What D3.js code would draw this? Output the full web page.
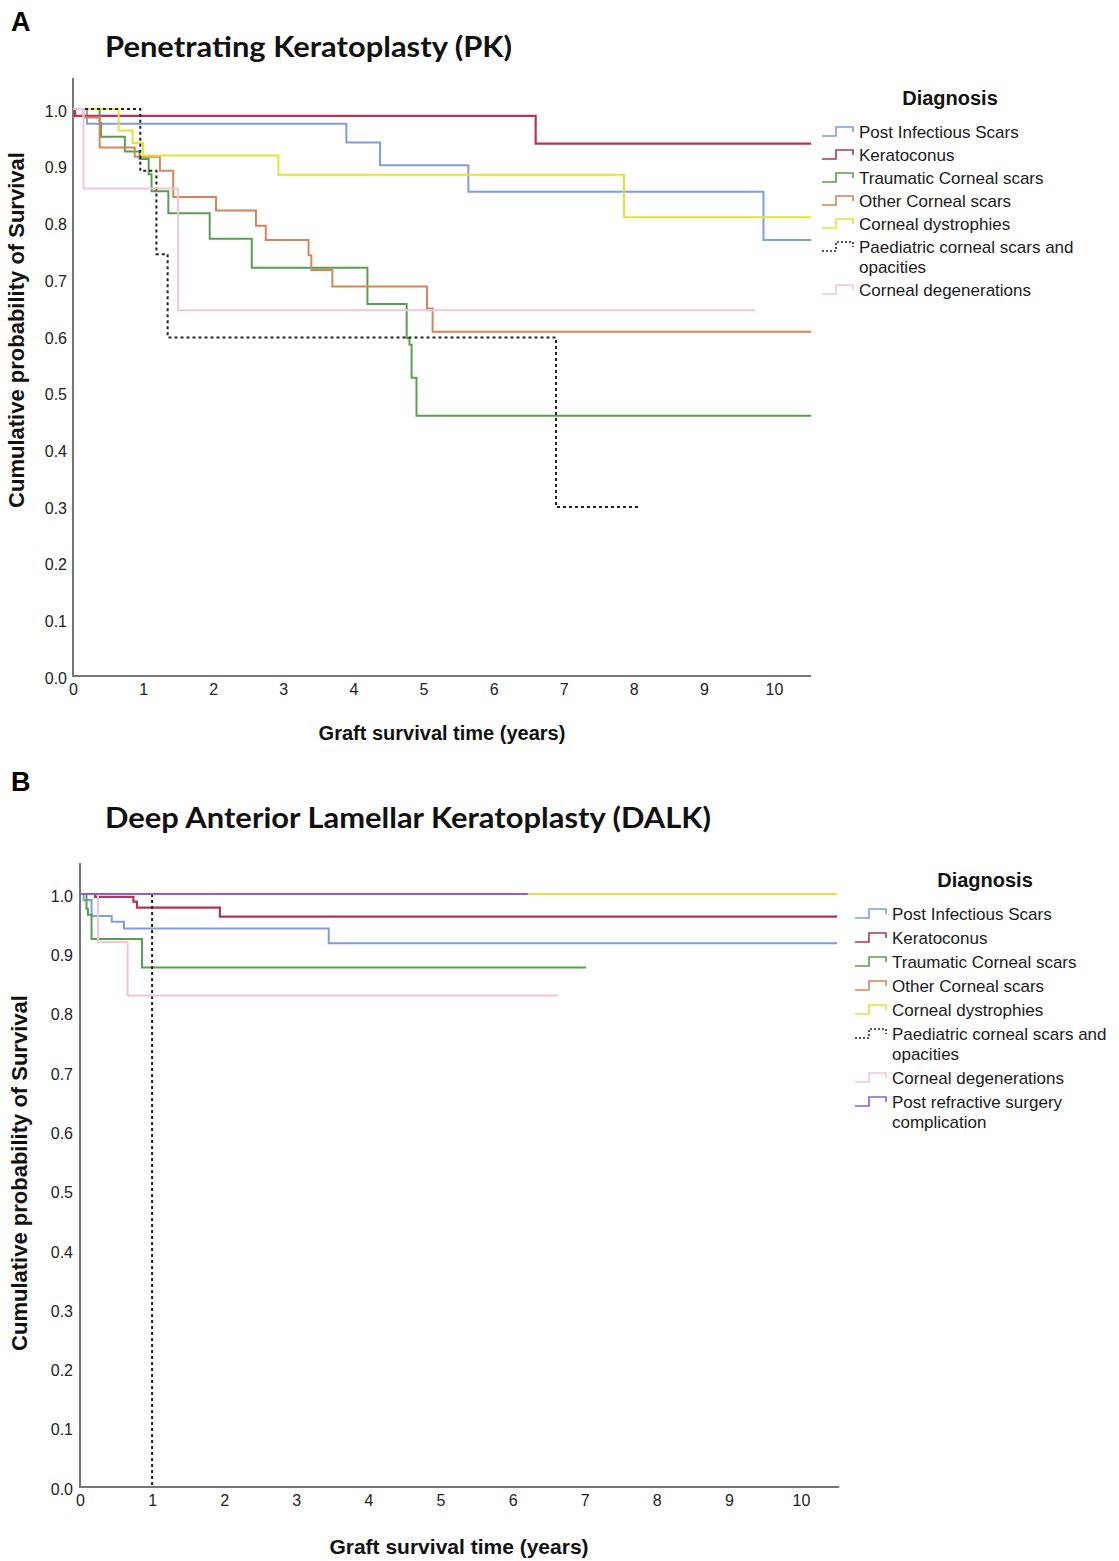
<!DOCTYPE html>
<html>
<head>
<meta charset="utf-8">
<script src="https://cdnjs.cloudflare.com/ajax/libs/d3/7.8.5/d3.min.js"></script>
<style>
    body { margin: 0; background: #fff; }
    text { font-family: Arial, "Liberation Sans", sans-serif; }
    .title { font-family: Lato, "Open Sans", sans-serif; font-weight: bold; }
</style>
</head>
<body>
<div id="chart"></div>
<script>
const xTicks = [0, 1, 2, 3, 4, 5, 6, 7, 8, 9, 10];
const yTicks = [0, 0.1, 0.2, 0.3, 0.4, 0.5, 0.6, 0.7, 0.8, 0.9, 1.0];

const diagnosesPK = ["Post Infectious Scars", "Keratoconus", "Traumatic Corneal scars", "Other Corneal scars",
    "Corneal dystrophies", "Paediatric corneal scars and|opacities", "Corneal degenerations"];
const diagnosesDALK = ["Post Infectious Scars", "Keratoconus", "Traumatic Corneal scars", "Other Corneal scars",
    "Corneal dystrophies", "Paediatric corneal scars and|opacities", "Corneal degenerations",
    "Post refractive surgery|complication"];

// [years, cumulative survival] - Penetrating Keratoplasty
const pkPostInfectious = [[0, 1], [0.2, 0.974], [3.9, 0.941], [4.38, 0.901], [5.64, 0.854], [9.85, 0.769], [10.53, 0.769]];
const pkKeratoconus = [[0, 1], [0.03, 0.988], [6.6, 0.939], [10.53, 0.939]];
const pkTraumatic = [[0, 1], [0.38, 0.975], [0.4, 0.951], [0.74, 0.925], [0.95, 0.912], [1.08, 0.885], [1.12, 0.855],
    [1.36, 0.816], [1.95, 0.771], [2.55, 0.72], [4.2, 0.656], [4.76, 0.596], [4.8, 0.584], [4.83, 0.526], [4.9, 0.459], [10.53, 0.459]];
const pkOther = [[0, 1], [0.15, 0.985], [0.38, 0.932], [0.88, 0.916], [1.24, 0.891], [1.43, 0.845], [2.04, 0.821],
    [2.61, 0.794], [2.75, 0.769], [3.36, 0.742], [3.4, 0.716], [3.7, 0.687], [5.05, 0.648], [5.13, 0.607], [10.53, 0.607]];
const pkDystrophies = [[0, 1], [0.65, 0.962], [0.85, 0.94], [1.0, 0.918], [2.93, 0.884], [7.86, 0.809], [10.53, 0.809]];
const pkPaediatric = [[0, 1], [0.96, 0.891], [1.19, 0.744], [1.35, 0.597], [6.89, 0.298], [8.06, 0.298]];
const pkDegenerations = [[0, 1], [0.15, 0.86], [1.5, 0.645], [9.73, 0.645]];

// [years, cumulative survival] - Deep Anterior Lamellar Keratoplasty
const dkPostInfectious = [[0, 1], [0.05, 0.99], [0.16, 0.963], [0.44, 0.953], [0.61, 0.942], [3.45, 0.917], [10.5, 0.917]];
const dkKeratoconus = [[0, 1], [0.21, 0.995], [0.74, 0.987], [0.79, 0.977], [1.94, 0.962], [10.5, 0.962]];
const dkTraumatic = [[0, 1], [0.09, 0.975], [0.11, 0.965], [0.16, 0.924], [0.86, 0.876], [7.02, 0.876]];
const dkOther = [[0, 1], [5.0, 1]];
const dkDystrophies = [[0, 1], [10.5, 1]];
const dkPaediatric = [[0, 1], [1.0, 0], [1.0, 0]];
const dkDegenerations = [[0, 1], [0.25, 0.919], [0.66, 0.829], [6.63, 0.829]];
const dkPostRefractive = [[0, 1], [6.21, 1]];

const lineStyle = {
    "Post Infectious Scars": { color: "#7d9de0", width: 2 },
    "Keratoconus": { color: "#b03559", width: 2.2 },
    "Traumatic Corneal scars": { color: "#58a050", width: 2 },
    "Other Corneal scars": { color: "#d4865a", width: 2 },
    "Corneal dystrophies": { color: "#e3e335", width: 2 },
    "Paediatric corneal scars and|opacities": { color: "#222", width: 2, dash: "3,3" },
    "Corneal degenerations": { color: "#f3c5da", width: 2 },
    "Post refractive surgery|complication": { color: "#8b5fe0", width: 2 }
};

class KaplanMeier {
    constructor(svg, config) {
        this.svg = svg;
        this.config = config;
        this.g = this.svg.append("g");
        this.createScales();
        this.createAxis();
        this.renderLabels();
        this.renderLines();
        this.renderLegend();
    }

    createScales() {
        let c = this.config;
        this.xScale = d3.scaleLinear().domain([0, 10]).range([c.x0, c.x10]);
        this.yScale = d3.scaleLinear().domain([0, 1]).range([c.y0, c.y1]);
    }

    createAxis() {
        let c = this.config;
        let xAxis = d3.axisBottom(this.xScale).tickValues(xTicks).tickSize(0).tickPadding(8);
        let yAxis = d3.axisLeft(this.yScale).tickValues(yTicks).tickSize(0).tickPadding(c.yPad)
            .tickFormat(d3.format(".1f"));

        let gx = this.g.append("g")
            .attr("transform", `translate(0,${c.y0})`)
            .call(xAxis);
        let gy = this.g.append("g")
            .attr("transform", `translate(${c.x0},0)`)
            .call(yAxis);
        [gx, gy].forEach(a => {
            a.select(".domain").remove();
            a.selectAll("text").attr("font-size", 16).attr("fill", "#222")
                .style("font-family", "Arial, 'Liberation Sans', sans-serif");
        });
        gy.selectAll("text").attr("dy", "0.45em");

        this.g.append("line")
            .attr("x1", c.x0).attr("x2", c.x0)
            .attr("y1", c.axisTop).attr("y2", c.y0 + 1)
            .attr("stroke", "#777").attr("stroke-width", 2);
        this.g.append("line")
            .attr("x1", c.x0 - 1).attr("x2", this.xScale(c.xEnd))
            .attr("y1", c.y0).attr("y2", c.y0)
            .attr("stroke", "#777").attr("stroke-width", 2);
    }

    renderLabels() {
        let c = this.config;
        this.svg.append("text")
            .attr("x", 11).attr("y", c.letterY)
            .attr("font-size", 27).attr("font-weight", "bold")
            .text(c.letter);

        this.svg.append("text")
            .attr("class", "title")
            .attr("x", 105).attr("y", c.titleY)
            .attr("font-size", 28)
            .attr("textLength", c.titleLen).attr("lengthAdjust", "spacingAndGlyphs")
            .attr("fill", "#111")
            .text(c.title);

        this.svg.append("text")
            .attr("text-anchor", "middle")
            .attr("x", c.xTitleX).attr("y", c.xTitleY)
            .attr("font-size", c.xTitleSize).attr("font-weight", "bold").attr("fill", "#111")
            .text("Graft survival time (years)");

        this.svg.append("text")
            .attr("text-anchor", "middle")
            .attr("transform", `translate(${c.yTitleX},${c.yTitleY}) rotate(-90)`)
            .attr("font-size", 22).attr("font-weight", "bold").attr("fill", "#111")
            .text("Cumulative probability of Survival");
    }

    renderLines() {
        let line = d3.line()
            .x(d => this.xScale(d[0]))
            .y(d => this.yScale(d[1]))
            .curve(d3.curveStepAfter);

        this.g.selectAll("path.km")
            .data(this.config.series)
            .join("path")
            .attr("class", "km")
            .attr("d", d => line(d.values))
            .attr("fill", "none")
            .attr("stroke", d => lineStyle[d.name].color)
            .attr("stroke-width", d => lineStyle[d.name].width)
            .attr("stroke-dasharray", d => lineStyle[d.name].dash || null);
    }

    renderLegend() {
        let c = this.config;
        this.svg.append("text")
            .attr("text-anchor", "middle")
            .attr("x", c.legendTitleX).attr("y", c.legendTitleY)
            .attr("font-size", 20).attr("font-weight", "bold").attr("fill", "#111")
            .text("Diagnosis");

        let y = c.legendY;
        c.names.forEach(name => {
            let st = lineStyle[name];
            let lines = name.split("|");
            let sx = c.legendX;
            this.svg.append("path")
                .attr("d", `M${sx},${y + 4} h14 v-9 h17 v5`)
                .attr("fill", "none")
                .attr("stroke", st.color)
                .attr("stroke-width", 1.6)
                .attr("stroke-dasharray", st.dash ? "2,2" : null);
            let t = this.svg.append("text")
                .attr("x", sx + 37).attr("y", y + 6)
                .attr("font-size", 17).attr("fill", "#1a1a1a");
            lines.forEach((l, i) => {
                t.append("tspan").attr("x", sx + 37).attr("dy", i === 0 ? 0 : c.wrapStep).text(l);
            });
            y += c.rowStep + (lines.length - 1) * c.wrapStep;
        });
    }
}

let svg = d3.select("#chart").append("svg")
    .attr("width", 1119).attr("height", 1561)
    .style("background", "#fff");

new KaplanMeier(svg, {
    letter: "A", letterY: 31,
    title: "Penetrating Keratoplasty (PK)", titleY: 57, titleLen: 407,
    x0: 73, x10: 774, y0: 676, y1: 109, axisTop: 78, xEnd: 10.53, yPad: 6,
    xTitleX: 442, xTitleY: 740, xTitleSize: 20,
    yTitleX: 24, yTitleY: 330,
    legendTitleX: 950, legendTitleY: 105, legendX: 822, legendY: 132, rowStep: 23, wrapStep: 20,
    names: diagnosesPK,
    series: [
        { name: diagnosesPK[0], values: pkPostInfectious },
        { name: diagnosesPK[1], values: pkKeratoconus },
        { name: diagnosesPK[2], values: pkTraumatic },
        { name: diagnosesPK[3], values: pkOther },
        { name: diagnosesPK[4], values: pkDystrophies },
        { name: diagnosesPK[5], values: pkPaediatric },
        { name: diagnosesPK[6], values: pkDegenerations }
    ]
});

new KaplanMeier(svg, {
    letter: "B", letterY: 791,
    title: "Deep Anterior Lamellar Keratoplasty (DALK)", titleY: 828, titleLen: 606,
    x0: 80, x10: 801, y0: 1487, y1: 894, axisTop: 863, xEnd: 10.53, yPad: 7,
    xTitleX: 459, xTitleY: 1554, xTitleSize: 21,
    yTitleX: 27, yTitleY: 1173,
    legendTitleX: 985, legendTitleY: 887, legendX: 855, legendY: 914, rowStep: 24, wrapStep: 20,
    names: diagnosesDALK,
    series: [
        { name: diagnosesDALK[0], values: dkPostInfectious },
        { name: diagnosesDALK[1], values: dkKeratoconus },
        { name: diagnosesDALK[2], values: dkTraumatic },
        { name: diagnosesDALK[3], values: dkOther },
        { name: diagnosesDALK[4], values: dkDystrophies },
        { name: diagnosesDALK[5], values: dkPaediatric },
        { name: diagnosesDALK[6], values: dkDegenerations },
        { name: diagnosesDALK[7], values: dkPostRefractive }
    ]
});
</script>
</body>
</html>
